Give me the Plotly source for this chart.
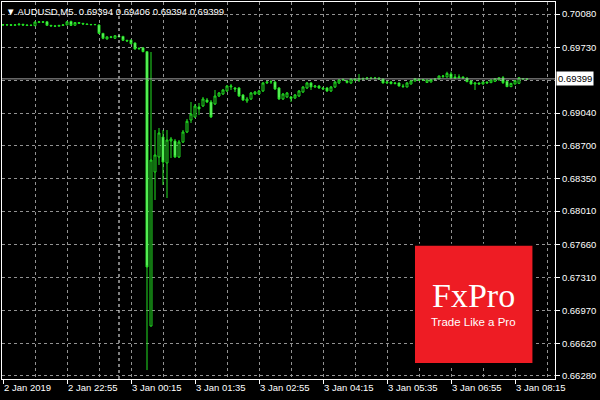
import plotly.graph_objects as go

symbol = "AUDUSD,M5"

# OHLC of the 5-minute bars, 2 Jan 2019 21:35 -> 3 Jan 2019 08:30
opens = [
    0.69968, 0.69965, 0.69967, 0.69962, 0.69966, 0.69972, 0.69964, 0.69960, 0.69957, 0.69992,
    0.69998, 0.69998, 0.69961, 0.69955, 0.69952, 0.69960, 0.69966, 0.70002, 0.69962, 0.69990,
    0.69982, 0.69975, 0.69970, 0.69968, 0.69965, 0.69877, 0.69818, 0.69840, 0.69825, 0.69848,
    0.69845, 0.69804, 0.69806, 0.69776, 0.69715, 0.69725, 0.69685, 0.66804, 0.68421, 0.68579,
    0.68789, 0.68516, 0.68747, 0.68747, 0.68579, 0.68736, 0.68841, 0.68967, 0.68999, 0.69104,
    0.69114, 0.69177, 0.69156, 0.69135, 0.69219, 0.69240, 0.69272, 0.69314, 0.69303, 0.69303,
    0.69230, 0.69167, 0.69188, 0.69240, 0.69240, 0.69272, 0.69356, 0.69366, 0.69366, 0.69303,
    0.69188, 0.69209, 0.69209, 0.69198, 0.69219, 0.69261, 0.69303, 0.69356, 0.69314, 0.69324,
    0.69303, 0.69303, 0.69272, 0.69314, 0.69356, 0.69387, 0.69377, 0.69356, 0.69398, 0.69387,
    0.69403, 0.69398, 0.69408, 0.69403, 0.69408, 0.69398, 0.69356, 0.69366, 0.69350, 0.69356,
    0.69324, 0.69314, 0.69345, 0.69377, 0.69398, 0.69387, 0.69361, 0.69366, 0.69393, 0.69398,
    0.69424, 0.69419, 0.69450, 0.69419, 0.69408, 0.69419, 0.69408, 0.69377, 0.69345, 0.69356,
    0.69345, 0.69366, 0.69359, 0.69373, 0.69387, 0.69411, 0.69373, 0.69317, 0.69345, 0.69352,
    0.69403, 0.69394,
]
highs = [
    0.69975, 0.69972, 0.69975, 0.69972, 0.69985, 0.69976, 0.69972, 0.69968, 0.70000, 0.70004,
    0.70003, 0.70002, 0.69965, 0.69960, 0.69966, 0.69970, 0.70004, 0.70010, 0.69996, 0.69994,
    0.69986, 0.69980, 0.69976, 0.69975, 0.69972, 0.69880, 0.69845, 0.69850, 0.69856, 0.69855,
    0.69850, 0.69808, 0.69810, 0.69780, 0.69725, 0.69730, 0.69690, 0.69681, 0.68862, 0.68883,
    0.68862, 0.68862, 0.68789, 0.68768, 0.68757, 0.68862, 0.68978, 0.69156, 0.69135, 0.69146,
    0.69209, 0.69198, 0.69177, 0.69282, 0.69261, 0.69293, 0.69335, 0.69345, 0.69314, 0.69314,
    0.69240, 0.69209, 0.69261, 0.69272, 0.69282, 0.69366, 0.69377, 0.69387, 0.69377, 0.69314,
    0.69251, 0.69261, 0.69219, 0.69240, 0.69282, 0.69324, 0.69366, 0.69366, 0.69335, 0.69335,
    0.69314, 0.69314, 0.69324, 0.69377, 0.69398, 0.69403, 0.69387, 0.69408, 0.69408, 0.69450,
    0.69413, 0.69419, 0.69419, 0.69419, 0.69413, 0.69403, 0.69377, 0.69377, 0.69361, 0.69361,
    0.69345, 0.69366, 0.69382, 0.69408, 0.69403, 0.69398, 0.69393, 0.69398, 0.69403, 0.69434,
    0.69440, 0.69474, 0.69474, 0.69450, 0.69447, 0.69424, 0.69413, 0.69382, 0.69361, 0.69361,
    0.69372, 0.69372, 0.69393, 0.69405, 0.69416, 0.69429, 0.69377, 0.69356, 0.69384, 0.69416,
    0.69408, 0.69406,
]
lows = [
    0.69960, 0.69958, 0.69955, 0.69958, 0.69960, 0.69958, 0.69955, 0.69953, 0.69955, 0.69985,
    0.69988, 0.69958, 0.69948, 0.69947, 0.69950, 0.69955, 0.69962, 0.69955, 0.69958, 0.69978,
    0.69970, 0.69966, 0.69962, 0.69962, 0.69872, 0.69815, 0.69812, 0.69826, 0.69820, 0.69835,
    0.69800, 0.69790, 0.69762, 0.69705, 0.69705, 0.69678, 0.66342, 0.66800, 0.68127, 0.68495,
    0.68285, 0.68148, 0.68568, 0.68568, 0.68568, 0.68726, 0.68830, 0.68936, 0.68988, 0.69020,
    0.69104, 0.69146, 0.68988, 0.69125, 0.69209, 0.69230, 0.69261, 0.69282, 0.69261, 0.69209,
    0.69167, 0.69146, 0.69177, 0.69230, 0.69230, 0.69261, 0.69345, 0.69345, 0.69282, 0.69177,
    0.69177, 0.69198, 0.69156, 0.69188, 0.69209, 0.69251, 0.69293, 0.69282, 0.69303, 0.69293,
    0.69282, 0.69261, 0.69261, 0.69303, 0.69345, 0.69377, 0.69350, 0.69345, 0.69377, 0.69366,
    0.69387, 0.69387, 0.69393, 0.69393, 0.69387, 0.69350, 0.69345, 0.69340, 0.69340, 0.69319,
    0.69303, 0.69309, 0.69340, 0.69372, 0.69377, 0.69377, 0.69356, 0.69361, 0.69387, 0.69393,
    0.69408, 0.69413, 0.69394, 0.69398, 0.69403, 0.69403, 0.69366, 0.69340, 0.69282, 0.69340,
    0.69340, 0.69350, 0.69356, 0.69369, 0.69384, 0.69345, 0.69314, 0.69314, 0.69342, 0.69350,
    0.69393, 0.69394,
]
closes = [
    0.69965, 0.69967, 0.69962, 0.69966, 0.69972, 0.69964, 0.69960, 0.69962, 0.69996, 0.69998,
    0.69994, 0.69961, 0.69955, 0.69952, 0.69960, 0.69966, 0.69998, 0.69960, 0.69990, 0.69982,
    0.69975, 0.69970, 0.69968, 0.69970, 0.69877, 0.69825, 0.69840, 0.69835, 0.69852, 0.69842,
    0.69804, 0.69797, 0.69768, 0.69713, 0.69720, 0.69685, 0.67424, 0.68547, 0.68600, 0.68831,
    0.68526, 0.68757, 0.68768, 0.68579, 0.68736, 0.68841, 0.68954, 0.69030, 0.69114, 0.69083,
    0.69188, 0.69156, 0.68999, 0.69219, 0.69251, 0.69282, 0.69324, 0.69324, 0.69293, 0.69219,
    0.69177, 0.69188, 0.69251, 0.69261, 0.69272, 0.69356, 0.69366, 0.69370, 0.69293, 0.69188,
    0.69240, 0.69251, 0.69193, 0.69230, 0.69272, 0.69314, 0.69356, 0.69314, 0.69324, 0.69303,
    0.69293, 0.69272, 0.69314, 0.69366, 0.69387, 0.69393, 0.69361, 0.69398, 0.69387, 0.69403,
    0.69398, 0.69408, 0.69403, 0.69408, 0.69398, 0.69356, 0.69366, 0.69350, 0.69356, 0.69324,
    0.69319, 0.69356, 0.69377, 0.69403, 0.69387, 0.69393, 0.69387, 0.69393, 0.69398, 0.69429,
    0.69429, 0.69457, 0.69408, 0.69408, 0.69419, 0.69408, 0.69369, 0.69345, 0.69356, 0.69345,
    0.69366, 0.69356, 0.69387, 0.69401, 0.69411, 0.69359, 0.69317, 0.69352, 0.69380, 0.69411,
    0.69398, 0.69399,
]

bar_index = list(range(len(closes)))
day_start_bar = 29  # first bar of 3 Jan 00:00

x_tick_bars = [0, 16, 32, 48, 64, 80, 96, 112, 128]
x_tick_labels = ["2 Jan 2019", "2 Jan 22:55", "3 Jan 00:15", "3 Jan 01:35", "3 Jan 02:55",
                 "3 Jan 04:15", "3 Jan 05:35", "3 Jan 06:55", "3 Jan 08:15"]
x_minor_bars = [8, 24, 40, 56, 72, 88, 104, 120, 136]

y_tick_values = [0.70080, 0.69730, 0.69040, 0.68700, 0.68350, 0.68010, 0.67660,
                 0.67310, 0.66970, 0.66620, 0.66280]
y_minor_values = [0.69385]

LINE = "#22e022"
BEAR_FILL = "#8cff8c"
GRID = "#929292"
FONT = "Liberation Sans"

fig = go.Figure()
fig.add_trace(go.Candlestick(
    x=bar_index, open=opens, high=highs, low=lows, close=closes,
    increasing=dict(line=dict(color=LINE, width=1), fillcolor="#000000"),
    decreasing=dict(line=dict(color=LINE, width=1), fillcolor=BEAR_FILL),
    whiskerwidth=0, hoverinfo="skip", showlegend=False,
))

# day separator
fig.add_shape(type="line", x0=day_start_bar, x1=day_start_bar, y0=0, y1=1,
              xref="x", yref="paper", line=dict(color="#ffffff", width=1, dash="3px,3px"))
# current price line
fig.add_shape(type="line", x0=0, x1=1, y0=closes[-1], y1=closes[-1],
              xref="paper", yref="y", line=dict(color="#a0a0a0", width=1))

fig.add_annotation(x=1, y=closes[-1], xref="paper", yref="y", xanchor="left", yanchor="middle",
                   xshift=1, text=f"{closes[-1]:.5f}", showarrow=False,
                   bgcolor="#ffffff", borderpad=1,
                   font=dict(family=FONT, size=9.5, color="#000000"))

title = "▼ " + symbol + "  " + " ".join(f"{v:.5f}" for v in
                                        (opens[-1], highs[-1], lows[-1], closes[-1]))
fig.add_annotation(x=0, y=1, xref="paper", yref="paper", xanchor="left", yanchor="top",
                   xshift=2, yshift=-2, text=title, showarrow=False,
                   font=dict(family=FONT, size=9.5, color="#ffffff"))

# FxPro logo
fig.add_shape(type="rect", xref="paper", yref="paper", x0=0.745, x1=0.961, y0=0.040, y1=0.356,
              fillcolor="#ee1c24", line=dict(color="#000000", width=2), layer="above")
fig.add_annotation(x=0.853, y=0.222, xref="paper", yref="paper", xanchor="center",
                   yanchor="middle", text="FxPro", showarrow=False,
                   font=dict(family="Liberation Serif", size=34, color="#ffffff"))
fig.add_annotation(x=0.853, y=0.150, xref="paper", yref="paper", xanchor="center",
                   yanchor="middle", text="Trade Like a Pro",
                   showarrow=False, font=dict(family=FONT, size=11.5, color="#ffffff"))

fig.update_layout(
    width=600, height=400,
    margin=dict(l=2, r=45, t=2, b=21),
    paper_bgcolor="#000000", plot_bgcolor="#000000",
    boxgap=0.3,
    font=dict(family=FONT, size=9.5, color="#ffffff"),
    xaxis=dict(
        range=[-0.25, 138.0], rangeslider=dict(visible=False),
        tickvals=x_tick_bars, ticktext=x_tick_labels,
        ticks="outside", ticklen=4, tickcolor="#ffffff",
        ticklabelposition="outside right",
        showgrid=True, gridcolor=GRID, griddash="3px,3px", gridwidth=1,
        minor=dict(tickvals=x_minor_bars, showgrid=True, gridcolor=GRID,
                   griddash="3px,3px", ticks=""),
        showline=True, linecolor="#ffffff", linewidth=1, mirror=True,
        zeroline=False, tickfont=dict(size=9.5, color="#ffffff"),
    ),
    yaxis=dict(
        side="right", range=[0.66248, 0.70206],
        tickvals=y_tick_values, ticktext=[f"{v:.5f}" for v in y_tick_values],
        ticks="outside", ticklen=4, tickcolor="#ffffff",
        showgrid=True, gridcolor=GRID, griddash="3px,3px", gridwidth=1,
        minor=dict(tickvals=y_minor_values, showgrid=True, gridcolor=GRID,
                   griddash="3px,3px", ticks=""),
        showline=True, linecolor="#ffffff", linewidth=1, mirror=True,
        zeroline=False, tickfont=dict(size=9.5, color="#ffffff"),
    ),
)

fig.write_html("out.html", config={"displayModeBar": False},
               post_script="document.body.style.margin='0';document.body.style.background='#000';")
